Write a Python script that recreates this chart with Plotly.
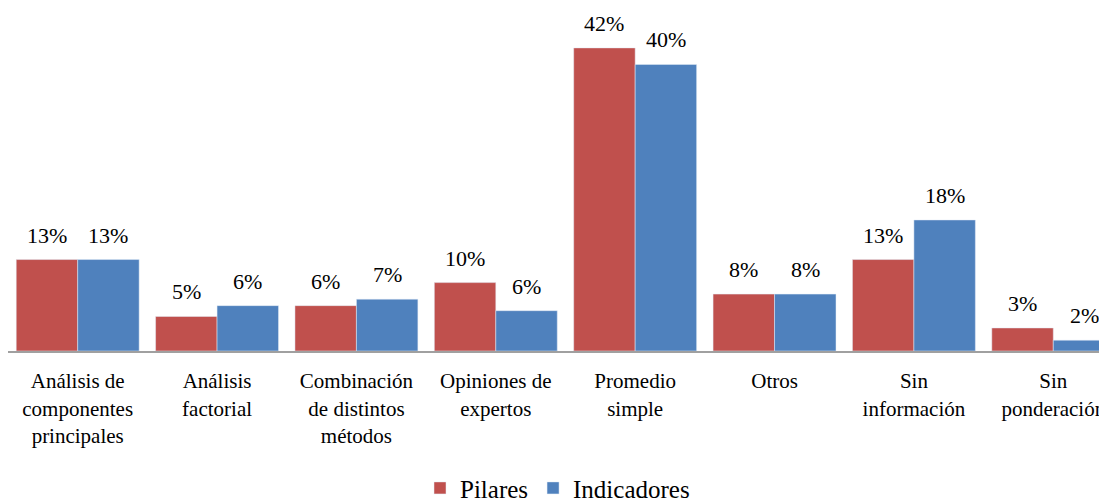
import plotly.graph_objects as go

categories = [
    "Análisis de<br>componentes<br>principales",
    "Análisis<br>factorial",
    "Combinación<br>de distintos<br>métodos",
    "Opiniones de<br>expertos",
    "Promedio<br>simple",
    "Otros",
    "Sin<br>información",
    "Sin<br>ponderación",
]
pilares = [12.7, 4.8, 6.3, 9.5, 42.1, 7.9, 12.7, 3.2]
indicadores = [12.7, 6.3, 7.2, 5.6, 39.8, 7.9, 18.2, 1.5]
pilares_labels = ["13%", "5%", "6%", "10%", "42%", "8%", "13%", "3%"]
indicadores_labels = ["13%", "6%", "7%", "6%", "40%", "8%", "18%", "2%"]

RED = "#C0504D"
BLUE = "#4F81BD"
FONT = "Liberation Serif"

xs = list(range(len(categories)))
bargap = 0.118
half = (1 - bargap) / 4  # offset of each bar centre from category centre

W, H = 1099, 494  # page body has an 8px margin

fig = go.Figure()
fig.add_trace(go.Bar(name="Pilares", x=xs, y=pilares, marker_color=RED))
fig.add_trace(go.Bar(name="Indicadores", x=xs, y=indicadores, marker_color=BLUE))

annotations = []
for i in xs:
    for off, vals, labs in ((-half, pilares, pilares_labels), (half, indicadores, indicadores_labels)):
        annotations.append(dict(
            x=i + off, y=vals[i], text=labs[i],
            showarrow=False, yanchor="bottom", yshift=10,
            font=dict(family=FONT, size=22, color="#000000"),
        ))

fig.update_layout(
    width=W, height=H,
    margin=dict(l=0, r=0, t=2, b=151, autoexpand=False),
    paper_bgcolor="white", plot_bgcolor="white",
    barmode="group", bargap=bargap, bargroupgap=0,
    showlegend=True,
    legend=dict(orientation="h", x=0.5, xanchor="center", y=0.028, yanchor="middle",
                yref="container", font=dict(family=FONT, size=25, color="#000000"),
                traceorder="normal"),
    annotations=annotations,
)
fig.update_xaxes(
    range=[-0.5, -0.5 + W / 139.37],
    tickmode="array", tickvals=xs, ticktext=categories, tickangle=0,
    showline=True, linecolor="#A0A0A0", linewidth=2, showgrid=False, zeroline=False,
    ticks="", ticklabelstandoff=10, ticklabeloverflow="allow",
    tickfont=dict(family=FONT, size=21, color="#000000"),
)
fig.update_yaxes(range=[0, 341 / 7.2], visible=False, showgrid=False, zeroline=False)

fig.write_html("out.html")
